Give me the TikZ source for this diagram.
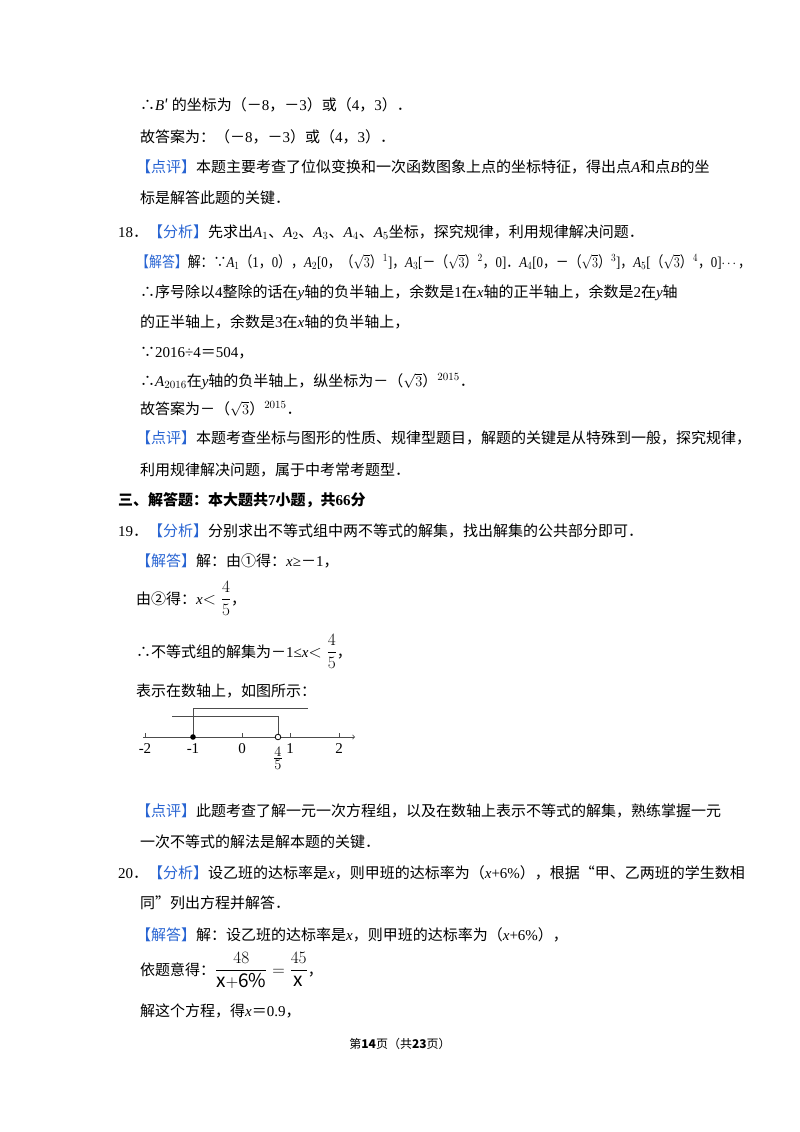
\documentclass[tikz,border=0pt]{standalone}
\usepackage{amsmath}
\usepackage{fontspec}
\setmainfont{Noto Sans CJK SC}
\newfontfamily\lat{Liberation Serif}
\newcommand{\mi}[1]{{\lat\itshape #1}}
\newcommand{\ml}[1]{{\lat #1}}
\newcommand{\bigf}[1]{{\fontsize{19}{22}\selectfont$#1$}}
\definecolor{tagblue}{RGB}{40,100,210}
\newcommand{\tg}[1]{\textcolor{tagblue}{【#1】}}
\begin{document}
\begin{tikzpicture}[x=1pt,y=-1pt,
  txt/.style={anchor=base west,inner sep=0pt,font=\fontsize{15}{18}\selectfont},
  ax/.style={line width=0.8pt,gray!60!black}]
\useasboundingbox (0,0) rectangle (800,1132);
\node[txt] (l1) at (140,110) {∴\mi{B}′ 的坐标为（－\ml{8}，－\ml{3}）或（\ml{4}，\ml{3}）．};
\node[txt] (l2) at (140,142) {故答案为：（－\ml{8}，－\ml{3}）或（\ml{4}，\ml{3}）．};
\node[txt] (l3) at (136,172) {\tg{点评}本题主要考查了位似变换和一次函数图象上点的坐标特征，得出点\mi{A}和点\mi{B}的坐};
\node[txt] (l4) at (140,203) {标是解答此题的关键．};
\node[txt] (l5) at (118,237) {\ml{18}．\tg{分析}先求出\mi{A}\ml{$_1$}、\mi{A}\ml{$_2$}、\mi{A}\ml{$_3$}、\mi{A}\ml{$_4$}、\mi{A}\ml{$_5$}坐标，探究规律，利用规律解决问题．};
\node[txt] (l6) at (136,267) {\scalebox{0.86}[1]{\tg{解答}解：∵\mi{A}\ml{$_1$}（\ml{1}，\ml{0}），\mi{A}\ml{$_2$}\ml{[0}，（$\sqrt{3}$）\ml{$^1$]}，\mi{A}\ml{$_3$}\ml{[}－（$\sqrt{3}$）\ml{$^2$}，\ml{0]}．\mi{A}\ml{$_4$}\ml{[0}，－（$\sqrt{3}$）\ml{$^3$]}，\mi{A}\ml{$_5$}\ml{[}（$\sqrt{3}$）\ml{$^4$}，\ml{0]}$\cdots$，}};
\node[txt] (l7) at (140,297) {∴序号除以\ml{4}整除的话在\mi{y}轴的负半轴上，余数是\ml{1}在\mi{x}轴的正半轴上，余数是\ml{2}在\mi{y}轴};
\node[txt] (l8) at (140,327) {的正半轴上，余数是\ml{3}在\mi{x}轴的负半轴上，};
\node[txt] (l9) at (140,357) {∵\ml{2016÷4}＝\ml{504}，};
\node[txt] (l10) at (140,386) {∴\mi{A}\ml{$_{2016}$}在\mi{y}轴的负半轴上，纵坐标为－（$\sqrt{3}$）\ml{$^{2015}$}．};
\node[txt] (l11) at (140,414) {故答案为－（$\sqrt{3}$）\ml{$^{2015}$}．};
\node[txt] (l12) at (136,443) {\tg{点评}本题考查坐标与图形的性质、规律型题目，解题的关键是从特殊到一般，探究规律，};
\node[txt] (l13) at (140,475) {利用规律解决问题，属于中考常考题型．};
\node[txt] (l14) at (118,505) {\bfseries 三、解答题：本大题共\ml{\bfseries 7}小题，共\ml{\bfseries 66}分};
\node[txt] (l15) at (118,536) {\ml{19}．\tg{分析}分别求出不等式组中两不等式的解集，找出解集的公共部分即可．};
\node[txt] (l16) at (136,566) {\tg{解答}解：由①得：\mi{x}\ml{≥}－\ml{1}，};
\node[txt] (l17) at (136,604) {由②得：\mi{x}\bigf{<\dfrac{4}{5}}，};
\node[txt] (l18) at (136,657) {∴不等式组的解集为－\ml{1≤}\mi{x}\bigf{<\dfrac{4}{5}}，};
\node[txt] (l19) at (136,696) {表示在数轴上，如图所示：};
% number line
\coordinate (a0) at (143,737); \coordinate (a1) at (355,737);
\draw[ax,->] (a0) -- (a1);
\foreach \v/\xx in {-2/145,-1/193,0/242,1/290,2/339}{
  \draw[ax] (\xx,733) -- (\xx,737);
  \node[inner sep=0pt,font=\lat\fontsize{15}{18}\selectfont] (t\xx) at (\xx,749) {\v};}
\node[inner sep=0pt,font=\fontsize{19}{22}\selectfont] (tf) at (278,758) {$\frac{4}{5}$};
\draw[ax] (193,737) -- (193,708) -- (308,708);
\draw[ax] (172,716) -- (278,716) -- (278,735);
\fill (193,737) circle (2.8);
\draw[line width=0.8pt,fill=white] (278,737) circle (2.8);
\node[txt] (l20) at (136,816) {\tg{点评}此题考查了解一元一次方程组，以及在数轴上表示不等式的解集，熟练掌握一元};
\node[txt] (l21) at (140,847) {一次不等式的解法是解本题的关键．};
\node[txt] (l22) at (118,878) {\ml{20}．\tg{分析}设乙班的达标率是\mi{x}，则甲班的达标率为（\mi{x}\ml{+6\%}），根据“甲、乙两班的学生数相};
\node[txt] (l23) at (140,908) {同”列出方程并解答．};
\node[txt] (l24) at (136,940) {\tg{解答}解：设乙班的达标率是\mi{x}，则甲班的达标率为（\mi{x}\ml{+6\%}），};
\node[txt] (l25) at (140,975) {依题意得：\bigf{\dfrac{48}{\mathrm{x{+}6\%}}=\dfrac{45}{\mathrm{x}}}，};
\node[txt] (l26) at (140,1016) {解这个方程，得\mi{x}＝\ml{0.9}，};
\node[txt,anchor=base] (ft) at (400,1048) {\fontsize{12}{14}\selectfont 第\textbf{14}页（共\textbf{23}页）};
\end{tikzpicture}
\end{document}
